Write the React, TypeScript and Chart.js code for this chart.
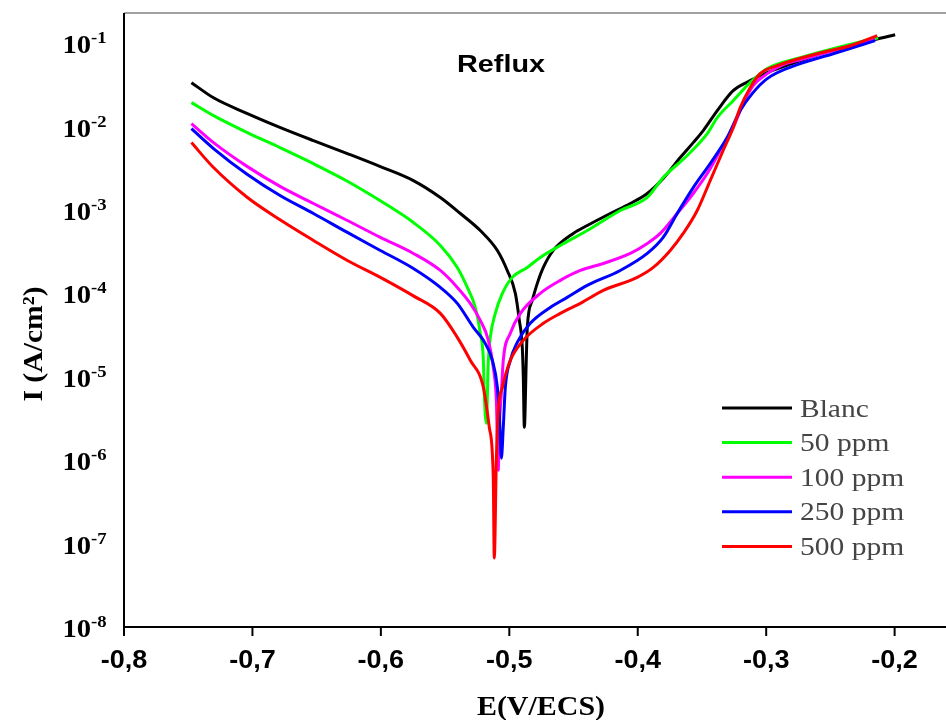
import React, { useEffect, useRef } from "react";
import { Chart, registerables } from "chart.js";

Chart.register(...registerables);

// ---------- data ----------
const seriesLabels = ["Blanc", "50 ppm", "100 ppm", "250 ppm", "500 ppm"];
const seriesColors = ["#000000", "#00ff00", "#ff00ff", "#0000ff", "#ff0000"];

const blancE = [-0.7475, -0.7303, -0.7039, -0.6782, -0.6525, -0.6261, -0.6004, -0.5747, -0.5537, -0.5381, -0.5226, -0.5093, -0.5016, -0.4953, -0.4922, -0.4899, -0.4891, -0.4883, -0.4868, -0.486, -0.4821, -0.4782, -0.4735, -0.4658, -0.4502, -0.4393, -0.4214, -0.4058, -0.3926, -0.3802, -0.3669, -0.3568, -0.349, -0.3381, -0.3257, -0.3125, -0.2992, -0.2868, -0.2735, -0.2603, -0.2346, -0.1996];
const blancLogI = [-1.473, -1.655, -1.844, -2.012, -2.168, -2.323, -2.479, -2.647, -2.85, -3.042, -3.246, -3.485, -3.725, -4.0, -4.323, -4.647, -5.006, -5.605, -4.802, -4.407, -4.084, -3.88, -3.689, -3.485, -3.281, -3.186, -3.042, -2.922, -2.802, -2.623, -2.371, -2.192, -2.048, -1.808, -1.569, -1.449, -1.353, -1.281, -1.21, -1.138, -1.03, -0.898];

const ppm50E = [-0.7475, -0.7303, -0.7039, -0.6782, -0.6525, -0.6261, -0.6004, -0.5747, -0.5537, -0.5405, -0.5327, -0.5265, -0.5226, -0.5202, -0.5195, -0.5179, -0.5163, -0.5148, -0.5109, -0.5054, -0.4977, -0.486, -0.4759, -0.4603, -0.4393, -0.4136, -0.3926, -0.3802, -0.3615, -0.3459, -0.3381, -0.3257, -0.3125, -0.2992, -0.2735, -0.2479, -0.2128];
const ppm50LogI = [-1.713, -1.868, -2.072, -2.255, -2.445, -2.655, -2.89, -3.15, -3.425, -3.689, -3.928, -4.168, -4.479, -4.802, -5.198, -5.557, -4.802, -4.527, -4.24, -4.0, -3.808, -3.689, -3.569, -3.425, -3.246, -3.006, -2.85, -2.611, -2.347, -2.084, -1.892, -1.689, -1.473, -1.305, -1.174, -1.066, -0.934];

const ppm100E = [-0.7475, -0.7303, -0.7039, -0.6782, -0.6525, -0.6261, -0.6004, -0.5747, -0.5537, -0.5405, -0.5304, -0.5226, -0.5163, -0.5125, -0.5101, -0.5086, -0.5078, -0.5062, -0.5047, -0.4992, -0.4914, -0.4759, -0.4603, -0.4447, -0.4268, -0.4058, -0.3926, -0.3825, -0.3693, -0.3568, -0.3459, -0.3358, -0.3257, -0.3179, -0.3101, -0.2992, -0.2868, -0.2735, -0.2479, -0.2152];
const ppm100LogI = [-1.964, -2.192, -2.48, -2.72, -2.922, -3.126, -3.329, -3.521, -3.725, -3.928, -4.12, -4.323, -4.563, -4.886, -5.281, -6.12, -5.605, -5.198, -4.802, -4.479, -4.24, -4.0, -3.844, -3.725, -3.641, -3.521, -3.401, -3.281, -3.042, -2.802, -2.563, -2.287, -2.012, -1.725, -1.509, -1.365, -1.257, -1.198, -1.09, -0.946];

const ppm250E = [-0.7475, -0.7303, -0.7039, -0.6782, -0.6525, -0.6261, -0.6004, -0.5747, -0.5537, -0.5405, -0.528, -0.5202, -0.5132, -0.5093, -0.5078, -0.5062, -0.5047, -0.5031, -0.4992, -0.4938, -0.4837, -0.4681, -0.4549, -0.4393, -0.4136, -0.3926, -0.3802, -0.3693, -0.3568, -0.3436, -0.3304, -0.3202, -0.3109, -0.2992, -0.2735, -0.2479, -0.2152];
const ppm250LogI = [-2.024, -2.263, -2.575, -2.83, -3.042, -3.269, -3.485, -3.701, -3.928, -4.12, -4.407, -4.563, -4.802, -5.126, -5.437, -5.976, -5.605, -5.126, -4.802, -4.587, -4.359, -4.168, -4.048, -3.904, -3.725, -3.521, -3.329, -3.042, -2.731, -2.443, -2.132, -1.808, -1.605, -1.425, -1.246, -1.126, -0.97];

const ppm500E = [-0.7475, -0.7303, -0.7039, -0.6782, -0.6525, -0.6261, -0.6004, -0.5747, -0.5537, -0.5405, -0.5304, -0.5202, -0.5156, -0.5125, -0.5117, -0.5101, -0.5086, -0.5054, -0.4992, -0.4891, -0.4735, -0.4603, -0.4447, -0.4268, -0.4004, -0.3879, -0.3747, -0.3646, -0.3537, -0.3436, -0.3335, -0.3257, -0.3202, -0.3125, -0.3047, -0.2914, -0.2603, -0.2346, -0.2136];
const ppm500LogI = [-2.192, -2.491, -2.85, -3.12, -3.365, -3.605, -3.808, -4.03, -4.24, -4.527, -4.802, -5.126, -5.605, -6.204, -7.174, -6.0, -5.401, -5.126, -4.802, -4.563, -4.359, -4.24, -4.12, -3.964, -3.808, -3.689, -3.485, -3.281, -3.006, -2.647, -2.287, -2.012, -1.772, -1.533, -1.365, -1.269, -1.126, -1.03, -0.91];

const xTickValues = [-0.8, -0.7, -0.6, -0.5, -0.4, -0.3, -0.2];
const xTickLabels = ["-0,8", "-0,7", "-0,6", "-0,5", "-0,4", "-0,3", "-0,2"];
const yTickExponents = [-1, -2, -3, -4, -5, -6, -7, -8];

const chartTitle = "Reflux";
const xTitle = "E(V/ECS)";
const yTitle = "I (A/cm²)";

const xMin = -0.8;
const xMax = -0.16;
const yMinExp = -8;
const yMaxExp = -0.638;

const seriesE = [blancE, ppm50E, ppm100E, ppm250E, ppm500E];
const seriesLogI = [blancLogI, ppm50LogI, ppm100LogI, ppm250LogI, ppm500LogI];

// ---------- helpers ----------
function stretchText(
  ctx: CanvasRenderingContext2D,
  text: string,
  x: number,
  y: number,
  sx: number,
  align: CanvasTextAlign
) {
  ctx.save();
  ctx.translate(x, y);
  ctx.scale(sx, 1);
  ctx.textAlign = align;
  ctx.textBaseline = "alphabetic";
  ctx.fillText(text, 0, 0);
  ctx.restore();
}

const decorPlugin = {
  id: "decor",
  afterDraw(chart: any) {
    const ctx: CanvasRenderingContext2D = chart.ctx;
    const xs = chart.scales.x;
    const ys = chart.scales.y;
    const area = chart.chartArea;
    ctx.save();

    // top border (gray)
    ctx.strokeStyle = "#808080";
    ctx.lineWidth = 1.5;
    ctx.beginPath();
    ctx.moveTo(area.left, area.top);
    ctx.lineTo(area.right, area.top);
    ctx.stroke();

    // axes
    ctx.strokeStyle = "#000";
    ctx.lineWidth = 2;
    ctx.beginPath();
    ctx.moveTo(area.left, area.top);
    ctx.lineTo(area.left, area.bottom);
    ctx.lineTo(area.right, area.bottom);
    ctx.stroke();

    // x ticks + labels
    ctx.fillStyle = "#000";
    ctx.font = "bold 25px 'Liberation Sans', Arial, sans-serif";
    xTickValues.forEach((v, i) => {
      const px = xs.getPixelForValue(v);
      ctx.beginPath();
      ctx.moveTo(px, area.bottom);
      ctx.lineTo(px, area.bottom + 9);
      ctx.stroke();
      stretchText(ctx, xTickLabels[i], px, area.bottom + 41, 1.08, "center");
    });

    // y tick labels 10^n
    yTickExponents.forEach((e) => {
      const py = ys.getPixelForValue(Math.pow(10, e));
      ctx.font = "bold 26px 'Liberation Serif', 'Times New Roman', serif";
      stretchText(ctx, "10", 91, py + 10, 1.1, "right");
      ctx.font = "bold 17px 'Liberation Serif', 'Times New Roman', serif";
      stretchText(ctx, String(e), 91, py, 1.1, "left");
    });

    // axis titles
    ctx.font = "bold 28px 'Liberation Serif', 'Times New Roman', serif";
    stretchText(ctx, xTitle, 541, 715, 1.07, "center");
    ctx.save();
    ctx.translate(42, 344);
    ctx.rotate(-Math.PI / 2);
    stretchText(ctx, yTitle, 0, 0, 1.06, "center");
    ctx.restore();

    // chart title
    ctx.font = "bold 24px 'Liberation Sans', Arial, sans-serif";
    stretchText(ctx, chartTitle, 501, 72, 1.2, "center");

    // legend
    const legendTop = 408;
    const legendStep = 34.6;
    seriesLabels.forEach((lab, i) => {
      const y = legendTop + i * legendStep;
      ctx.strokeStyle = seriesColors[i];
      ctx.lineWidth = 3;
      ctx.beginPath();
      ctx.moveTo(722, y);
      ctx.lineTo(792, y);
      ctx.stroke();
      ctx.fillStyle = "#454545";
      ctx.font = "25px 'Liberation Serif', 'Times New Roman', serif";
      stretchText(ctx, lab, 800, y + 8.5, 1.18, "left");
    });

    ctx.restore();
  },
};

export default function App() {
  const canvasRef = useRef<HTMLCanvasElement | null>(null);

  useEffect(() => {
    if (!canvasRef.current) return;
    const datasets = seriesLabels.map((lab, i) => ({
      label: lab,
      data: seriesE[i].map((e, j) => ({ x: e, y: Math.pow(10, seriesLogI[i][j]) })),
      borderColor: seriesColors[i],
      backgroundColor: seriesColors[i],
      borderWidth: 3,
      pointRadius: 0,
      fill: false,
      cubicInterpolationMode: "monotone" as const,
      order: seriesLabels.length - 1 - i,
    }));

    const chart = new Chart(canvasRef.current, {
      type: "line",
      data: { datasets },
      options: {
        responsive: false,
        animation: false,
        parsing: true,
        layout: { padding: { left: 124, top: 13, right: 0, bottom: 93 } },
        plugins: {
          legend: { display: false },
          tooltip: { enabled: false },
          title: { display: false },
        },
        scales: {
          x: {
            type: "linear",
            display: false,
            min: xMin,
            max: xMax,
            bounds: "data",
          },
          y: {
            type: "logarithmic",
            display: false,
            min: Math.pow(10, yMinExp),
            max: Math.pow(10, yMaxExp),
            bounds: "data",
          },
        },
      },
      plugins: [decorPlugin],
    });
    return () => chart.destroy();
  }, []);

  return (
    <div style={{ position: "absolute", left: 0, top: 0, width: 946, height: 720, background: "#fff" }}>
      <canvas ref={canvasRef} width={946} height={720} style={{ display: "block" }} />
    </div>
  );
}
